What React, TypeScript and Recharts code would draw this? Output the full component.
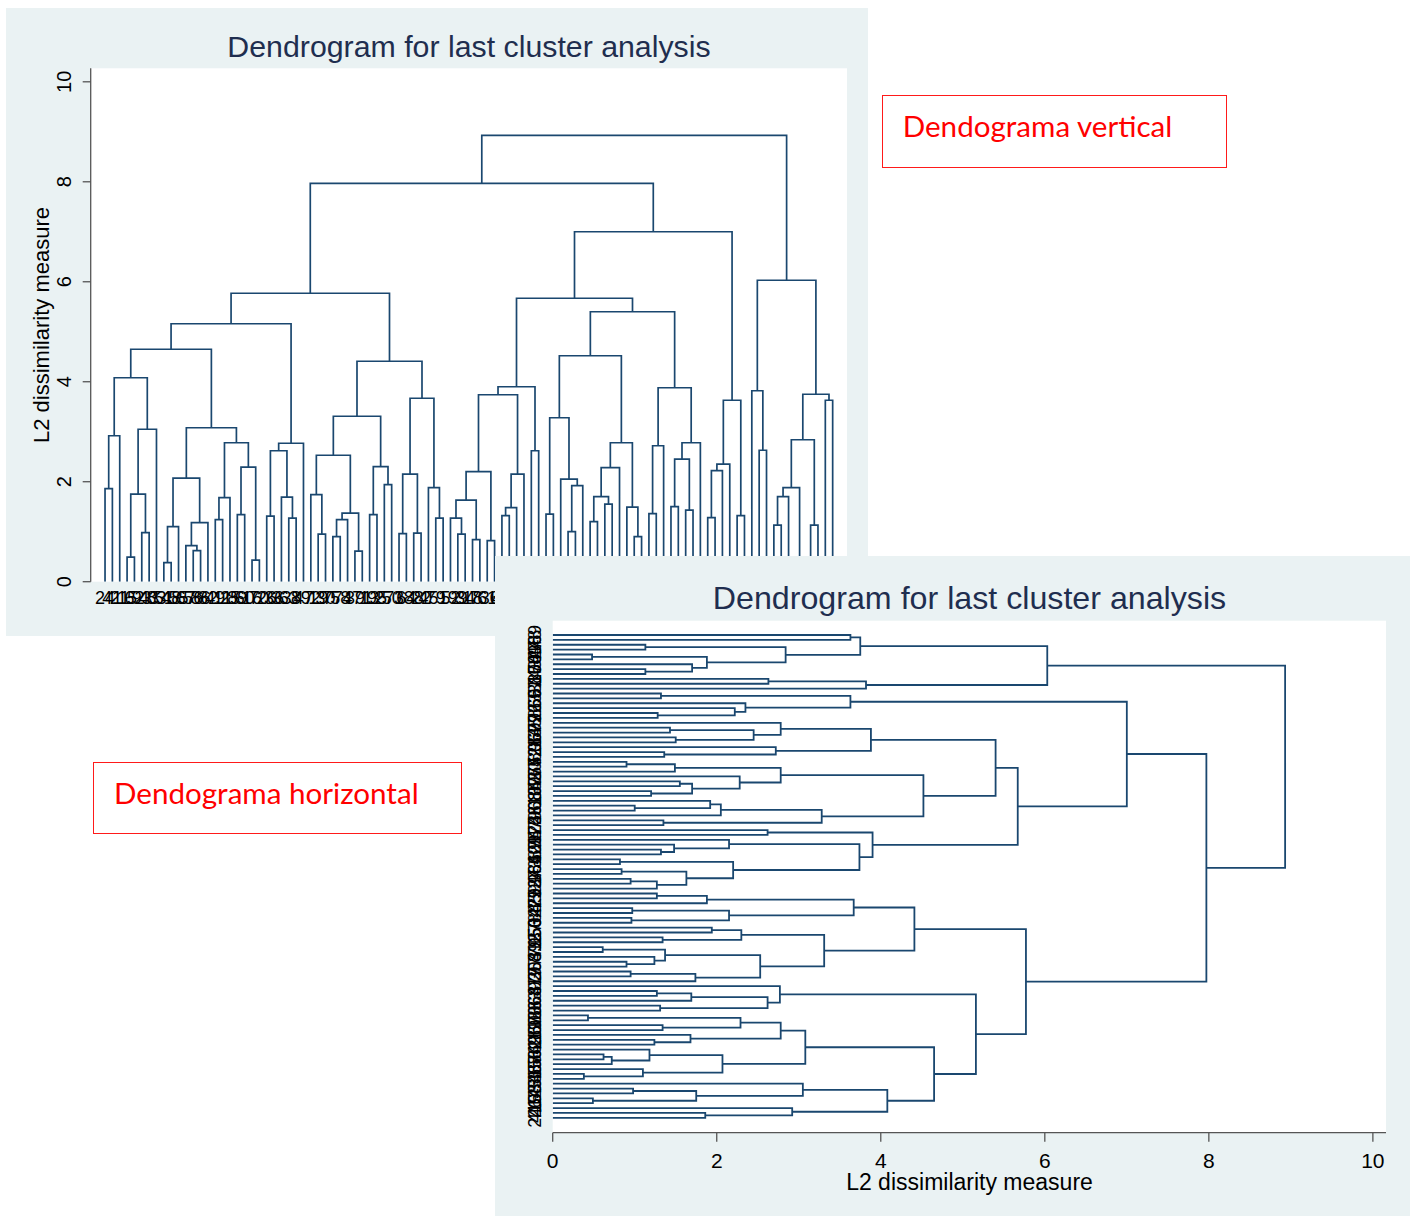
import React from 'react';
import { ScatterChart, Scatter, XAxis, YAxis, CartesianGrid } from 'recharts';

// observation ids under each leaf (left -> right in the vertical plot, bottom -> top in the horizontal one)
const leafLabels = [
  '24', '41', '21', '15', '62', '93', '43', '83', '51', '48',
  '55', '67', '56', '86', '82', '49', '11', '25', '89', '60',
  '16', '70', '26', '36', '33', '63', '8', '47', '92', '19',
  '30', '77', '58', '4', '39', '71', '13', '95', '27', '50',
  '3', '64', '88', '22', '45', '79', '1', '52', '99', '34',
  '18', '73', '61', '6', '40', '87', '29', '94', '12', '57',
  '75', '2', '46', '90', '31', '68', '10', '84', '37', '53',
  '97', '20', '65', '7', '42', '80', '28', '96', '14', '59',
  '35', '72', '9', '76', '85', '23', '66', '5', '91', '38',
  '74', '17', '100', '54', '32', '81', '44', '98', '78', '69',
];

// merges [child a, child b, L2 height]; leaves are 0..99, merge k gets id 100 + k
const leftLinks: [number, number, number][] = [
  [0, 1, 1.86], [100, 2, 2.92], [3, 4, 0.49], [5, 6, 0.98], [102, 103, 1.75],
  [104, 7, 3.05], [101, 105, 4.08], [8, 9, 0.38], [107, 10, 1.1], [12, 13, 0.62],
  [11, 109, 0.72], [110, 14, 1.18], [108, 111, 2.07], [15, 16, 1.24], [113, 17, 1.68],
  [18, 19, 1.34], [20, 21, 0.43], [115, 116, 2.29], [114, 117, 2.78], [112, 118, 3.08],
  [106, 119, 4.65], [22, 23, 1.31], [25, 26, 1.27], [24, 122, 1.69], [121, 123, 2.62],
  [124, 27, 2.77], [120, 125, 5.16], [29, 30, 0.95], [28, 127, 1.74], [31, 32, 0.9],
  [129, 33, 1.24], [34, 35, 0.61], [130, 131, 1.37], [128, 132, 2.53], [36, 37, 1.34],
  [38, 39, 1.94], [134, 135, 2.3], [133, 136, 3.31], [40, 41, 0.96], [42, 43, 0.97],
  [138, 139, 2.15], [45, 46, 1.27], [44, 141, 1.88], [140, 142, 3.67], [137, 143, 4.41],
  [126, 144, 5.77],
];
const rightLinks: [number, number, number][] = [
  [48, 49, 0.95], [47, 146, 1.27], [50, 51, 0.84], [147, 148, 1.63], [52, 53, 0.82],
  [149, 150, 2.2], [54, 55, 1.32], [152, 56, 1.48], [153, 57, 2.15], [151, 154, 3.74],
  [58, 59, 2.62], [155, 156, 3.9], [60, 61, 1.35], [63, 64, 1.0], [159, 65, 1.92],
  [62, 160, 2.05], [158, 161, 3.28], [66, 67, 1.2], [68, 69, 1.55], [163, 164, 1.7],
  [165, 70, 2.28], [72, 73, 0.9], [71, 167, 1.49], [166, 168, 2.78], [162, 169, 4.52],
  [74, 75, 1.36], [171, 76, 2.72], [77, 78, 1.5], [79, 80, 1.43], [173, 174, 2.45],
  [175, 81, 2.78], [172, 176, 3.88], [170, 177, 5.4], [157, 178, 5.67], [82, 83, 1.28],
  [180, 84, 2.22], [181, 85, 2.35], [86, 87, 1.32], [182, 183, 3.63], [179, 184, 7.0],
  [145, 185, 7.97], [89, 90, 2.63], [88, 187, 3.82], [91, 92, 1.13], [189, 93, 1.7],
  [94, 95, 0.48], [190, 191, 1.88], [96, 97, 1.13], [192, 193, 2.84], [98, 99, 3.63],
  [194, 195, 3.75], [188, 196, 6.03], [186, 197, 8.93],
];

const heightTicks = [0, 2, 4, 6, 8, 10];

const NAVY = '#1a476f';
const PANEL = '#eaf2f3';
const TITLE = '#1f2e4f';
const AXIS = '#555555';
const FONT = '"Liberation Sans", Arial, sans-serif';

// leaf position = order, node position = midpoint of its two children
const linkage = [...leftLinks, ...rightLinks];
const nLeaves = leafLabels.length;
const leafIdx = leafLabels.map((_, i) => i);
const pos: number[] = [];
const hgt: number[] = [];
leafIdx.forEach((i) => {
  pos[i] = i;
  hgt[i] = 0;
});
linkage.forEach(([a, b, h], k) => {
  pos[nLeaves + k] = (pos[a] + pos[b]) / 2;
  hgt[nLeaves + k] = h;
});
const links = linkage.map(([a, b, h]) => [
  { p: pos[a], h: hgt[a] },
  { p: pos[a], h },
  { p: pos[b], h },
  { p: pos[b], h: hgt[b] },
]);

const NoDot = () => <g />;

const renderLinks = (width: number) =>
  links.map((seg, i) => (
    <Scatter
      key={i}
      data={seg}
      fill={NAVY}
      line={{ stroke: NAVY, strokeWidth: width }}
      shape={NoDot}
      isAnimationActive={false}
    />
  ));

const HeightTickV = ({ x, y, payload }: any) => (
  <text
    transform={`translate(${x - 17},${y}) rotate(-90)`}
    textAnchor="middle"
    dy="0.35em"
    fontSize={20}
    fill="#000"
    fontFamily={FONT}
  >
    {payload.value}
  </text>
);

const LeafTickH = ({ x, y, payload }: any) => (
  <text
    transform={`translate(${x - 17.7},${y}) rotate(-90)`}
    textAnchor="middle"
    dy="0.35em"
    fontSize={18}
    fill="#000"
    fontFamily={FONT}
  >
    {leafLabels[payload.value]}
  </text>
);

const abs = (l: number, t: number, w: number, h: number): React.CSSProperties => ({
  position: 'absolute',
  left: l,
  top: t,
  width: w,
  height: h,
});

const NoteBox = ({ l, t, w, h, text }: any) => (
  <div style={{ ...abs(l, t, w, h), border: '1.5px solid #ff1a1a', boxSizing: 'border-box', background: '#fff' }}>
    <div
      style={{
        position: 'absolute',
        left: 20,
        top: 14.5,
        fontFamily: 'Lato, "Open Sans", sans-serif',
        fontSize: 29.6,
        lineHeight: '29.6px',
        color: '#ff0000',
        whiteSpace: 'nowrap',
      }}
    >
      {text}
    </div>
  </div>
);

export default function App() {
  return (
    <div style={{ ...abs(0, 0, 1413, 1216), background: '#fff', overflow: 'hidden', fontFamily: FONT }}>
      {/* vertical dendrogram */}
      <div style={{ ...abs(6, 8, 862, 628), background: PANEL }}>
        <div style={{ ...abs(0, 24, 862, 32), textAlign: 'center', paddingLeft: 64, boxSizing: 'border-box', fontSize: 30.3, lineHeight: '30px', color: TITLE }}>
          Dendrogram for last cluster analysis
        </div>
        <div
          style={{
            ...abs(36 - 150, 317 - 11, 300, 22),
            textAlign: 'center',
            fontSize: 22,
            lineHeight: '22px',
            color: '#000',
            transform: 'rotate(-90deg)',
          }}
        >
          L2 dissimilarity measure
        </div>
        <ScatterChart width={862} height={628} margin={{ top: 60.3, right: 21, bottom: 24.3, left: 0 }}>
          <CartesianGrid fill="#fff" horizontal={false} vertical={false} />
          <XAxis
            type="number"
            dataKey="p"
            domain={[-1.95, 100.95]}
            allowDataOverflow
            ticks={leafIdx}
            interval={0}
            tickFormatter={(v: number) => leafLabels[v]}
            axisLine={false}
            tickLine={false}
            tickSize={0}
            tickMargin={10}
            height={30}
            tick={{ fontSize: 18, fill: '#000', fontFamily: FONT }}
          />
          <YAxis
            type="number"
            dataKey="h"
            domain={[0, 10.27]}
            allowDataOverflow
            ticks={heightTicks}
            interval={0}
            width={84.7}
            tickSize={8}
            tickMargin={2}
            axisLine={{ stroke: AXIS, strokeWidth: 1.3 }}
            tickLine={{ stroke: AXIS, strokeWidth: 1.3 }}
            tick={<HeightTickV />}
          />
          {renderLinks(1.7)}
        </ScatterChart>
      </div>

      <NoteBox l={881.7} t={95.3} w={345} h={73} text="Dendograma vertical" />
      <NoteBox l={93} t={762} w={369} h={72} text="Dendograma horizontal" />

      {/* horizontal dendrogram */}
      <div style={{ ...abs(495, 556, 915, 660), background: PANEL }}>
        <div style={{ ...abs(0, 26, 915, 32), textAlign: 'center', paddingLeft: 34, boxSizing: 'border-box', fontSize: 32.2, lineHeight: '32px', color: TITLE }}>
          Dendrogram for last cluster analysis
        </div>
        <div style={{ ...abs(0, 614, 915, 24), textAlign: 'center', paddingLeft: 34, boxSizing: 'border-box', fontSize: 23, lineHeight: '24px', color: '#000' }}>
          L2 dissimilarity measure
        </div>
        <ScatterChart width={915} height={660} margin={{ top: 64.7, right: 24, bottom: 43.3, left: 0 }}>
          <CartesianGrid fill="#fff" horizontal={false} vertical={false} />
          <XAxis
            type="number"
            dataKey="h"
            domain={[0, 10.16]}
            allowDataOverflow
            ticks={heightTicks}
            interval={0}
            height={40}
            tickSize={9}
            tickMargin={11}
            axisLine={{ stroke: AXIS, strokeWidth: 1.3 }}
            tickLine={{ stroke: AXIS, strokeWidth: 1.3 }}
            tick={{ fontSize: 21, fill: '#000', fontFamily: FONT }}
          />
          <YAxis
            type="number"
            dataKey="p"
            domain={[-3.05, 101.93]}
            allowDataOverflow
            ticks={leafIdx}
            interval={0}
            width={57.7}
            tickSize={0}
            tickMargin={0}
            axisLine={false}
            tickLine={false}
            tick={<LeafTickH />}
          />
          {renderLinks(1.8)}
        </ScatterChart>
      </div>
    </div>
  );
}
